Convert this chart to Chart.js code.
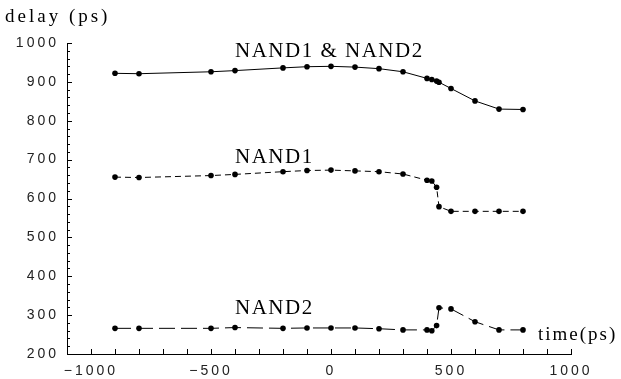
<!DOCTYPE html>
<html>
<head>
<meta charset="utf-8">
<script src="https://cdn.jsdelivr.net/npm/chart.js@4"></script>
<style>
  html, body { margin: 0; padding: 0; background: #fff; }
  #wrap { width: 621px; height: 379px; }
</style>
</head>
<body>
<div id="wrap"><canvas id="delayChart" width="621" height="379"></canvas></div>
<script>
// time points (ps), shared by all three curves
const times = [-900, -800, -500, -400, -200, -100, 0, 100, 200, 300, 400, 420, 440, 450, 500, 600, 700, 800];
// delay (ps)
const bothDelay  = [922, 921, 926, 929, 936, 939, 940, 938, 934, 926, 909, 906, 902, 899, 883, 851, 830, 829];
const nand1Delay = [655, 654, 659, 662, 669, 672, 673, 671, 669, 663, 647, 645, 629, 579, 567, 567, 567, 567];
const nand2Delay = [266, 266, 266, 268, 266, 267, 267, 267, 265, 262, 262, 260, 273, 319, 316, 283, 262, 262];

const xTicks = [-1000, -500, 0, 500, 1000];
const curveLabels = ['NAND1 & NAND2', 'NAND1', 'NAND2'];
// where the curve names sit, in data units
const labelX = [-400, -400, -400];
const labelY = [963, 691, 303];

function toPoints(ys) {
    return times.map((t, i) => ({ x: t, y: ys[i] }));
}

function lineSet(label, ys, dash) {
    return {
        label: label,
        data: toPoints(ys),
        borderColor: '#000',
        backgroundColor: '#000',
        borderWidth: 1,
        borderDash: dash,
        pointRadius: 2.8,
        pointBorderWidth: 0,
        pointBackgroundColor: '#000',
        tension: 0,
        fill: false
    };
}

const fmt = v => String(v).replace('-', '\u2212');

// inward tick marks, whole pixels so they stay crisp
const tickPlugin = {
    id: 'inTicks',
    afterDraw(chart) {
        const ctx = chart.ctx;
        const area = chart.chartArea;
        const xs = chart.scales.x, ys = chart.scales.y;
        const x0 = Math.round(area.left);
        const y0 = Math.round(area.bottom);
        ctx.save();
        ctx.fillStyle = '#000';
        for (let v = -1000; v <= 1000; v += 100) {
            const px = Math.round(xs.getPixelForValue(v));
            ctx.fillRect(px, y0 - 5, 1, 5);
        }
        for (let v = 220; v <= 1000; v += 20) {
            const py = Math.round(ys.getPixelForValue(v));
            const len = v % 100 === 0 ? 5 : 3;
            ctx.fillRect(x0, py, len, 1);
        }
        ctx.restore();
    }
};

// the serif text
const textPlugin = {
    id: 'texts',
    beforeDraw(chart) {
        chart.ctx.letterSpacing = '3px';
    },
    afterDraw(chart) {
        const ctx = chart.ctx;
        const xs = chart.scales.x, ys = chart.scales.y;
        ctx.save();
        ctx.fillStyle = '#000';
        ctx.textBaseline = 'alphabetic';
        ctx.textAlign = 'left';
        ctx.font = '21px "Liberation Serif"';
        ctx.letterSpacing = '1.5px';
        curveLabels.forEach((t, i) => {
            ctx.fillText(t, xs.getPixelForValue(labelX[i]), ys.getPixelForValue(labelY[i]));
        });
        ctx.font = '19px "Liberation Serif"';
        ctx.letterSpacing = '3px';
        ctx.fillText('delay (ps)', 5, 22);
        ctx.letterSpacing = '2px';
        ctx.fillText('time(ps)', xs.right - 33, ys.bottom - 14);
        ctx.restore();
    }
};

new Chart(document.getElementById('delayChart').getContext('2d'), {
    type: 'line',
    data: {
        datasets: [
            lineSet(curveLabels[0], bothDelay, []),
            lineSet(curveLabels[1], nand1Delay, [6, 4]),
            lineSet(curveLabels[2], nand2Delay, [16, 6])
        ]
    },
    options: {
        responsive: false,
        animation: false,
        layout: { padding: { top: 43, right: 50, left: 0, bottom: 0 } },
        plugins: {
            legend: { display: false },
            tooltip: { enabled: false }
        },
        scales: {
            x: {
                type: 'linear',
                min: -1100,
                max: 1000,
                afterBuildTicks: s => { s.ticks = xTicks.map(v => ({ value: v })); },
                afterFit: s => { s.height = 25; },
                grid: { display: false },
                border: { display: true, color: '#000', width: 1 },
                ticks: {
                    color: '#222',
                    padding: 1,
                    maxRotation: 0,
                    autoSkip: false,
                    font: { family: '"Liberation Sans"', size: 14 },
                    callback: fmt
                }
            },
            y: {
                type: 'linear',
                min: 200,
                max: 1000,
                afterFit: s => { s.width = 67; },
                grid: { display: false },
                border: { display: true, color: '#000', width: 1 },
                ticks: {
                    stepSize: 100,
                    color: '#222',
                    padding: 0,
                    font: { family: '"Liberation Sans"', size: 14 },
                    callback: fmt
                }
            }
        }
    },
    plugins: [tickPlugin, textPlugin]
});
</script>
</body>
</html>
